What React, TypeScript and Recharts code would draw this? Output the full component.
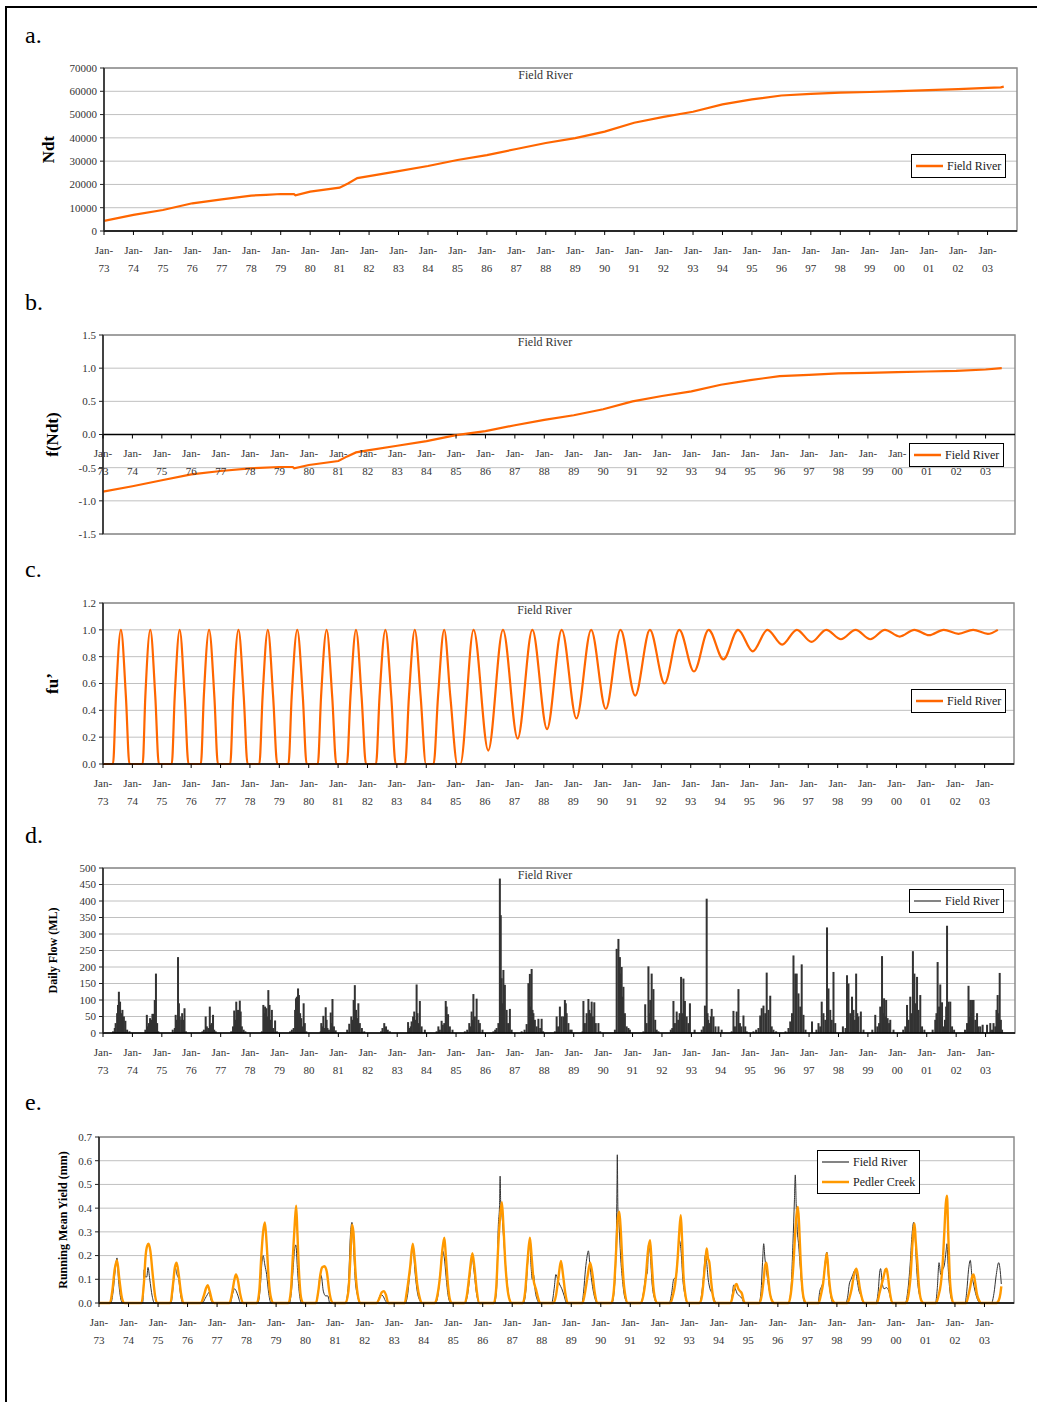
import React from 'react';
import {
  ComposedChart,
  Line,
  Bar,
  XAxis,
  YAxis,
  CartesianGrid,
  ReferenceArea,
  ReferenceLine,
  Legend,
} from 'recharts';

const FONT = '"Liberation Serif", "DejaVu Serif", serif';
const ORANGE = '#ff6600';
const AMBER = '#ff9900';
const DARK = '#333333';
const GRID = '#c0c0c0';
const BORDER = '#8c8c8c';

// ---- axes ----
const years = [
  1973, 1974, 1975, 1976, 1977, 1978, 1979, 1980, 1981, 1982, 1983, 1984, 1985, 1986, 1987, 1988,
  1989, 1990, 1991, 1992, 1993, 1994, 1995, 1996, 1997, 1998, 1999, 2000, 2001, 2002, 2003,
];
const ndtTicks = [0, 10000, 20000, 30000, 40000, 50000, 60000, 70000];
const fTicks = [-1.5, -1, -0.5, 0, 0.5, 1, 1.5];
const fuTicks = [0, 0.2, 0.4, 0.6, 0.8, 1, 1.2];
const flowTicks = [0, 50, 100, 150, 200, 250, 300, 350, 400, 450, 500];
const yieldTicks = [0, 0.1, 0.2, 0.3, 0.4, 0.5, 0.6, 0.7];

// ---- a. Ndt (decimal year, value) ----
const ndtPoints: [number, number][] = [
  [1973.0, 4300], [1974.0, 6900], [1975.0, 9000], [1976.0, 11900], [1977.0, 13600],
  [1978.0, 15200], [1978.5, 15500], [1979.0, 15900], [1979.45, 15800], [1979.5, 15300],
  [1980.0, 16900], [1981.0, 18600], [1981.3, 20500], [1981.6, 22700], [1982.0, 23600],
  [1983.0, 25700], [1984.0, 27900], [1985.0, 30500], [1986.0, 32600], [1987.0, 35200],
  [1988.0, 37800], [1989.0, 39900], [1990.0, 42700], [1991.0, 46500], [1992.0, 49000],
  [1993.0, 51200], [1994.0, 54400], [1995.0, 56500], [1996.0, 58200], [1997.0, 58900],
  [1998.0, 59400], [1999.0, 59700], [2000.0, 60100], [2001.0, 60500], [2002.0, 60900],
  [2003.0, 61500], [2003.45, 61700], [2003.55, 62000],
];

// ---- b. f(Ndt) ----
const fNdtPoints: [number, number][] = [
  [1973.0, -0.86], [1974.0, -0.78], [1975.0, -0.69], [1976.0, -0.6], [1977.0, -0.55],
  [1978.0, -0.51], [1979.0, -0.49], [1979.45, -0.49], [1979.5, -0.51], [1980.0, -0.46],
  [1981.0, -0.4], [1981.3, -0.33], [1981.6, -0.27], [1982.0, -0.24], [1983.0, -0.17],
  [1984.0, -0.1], [1985.0, -0.01], [1986.0, 0.05], [1987.0, 0.14], [1988.0, 0.22],
  [1989.0, 0.29], [1990.0, 0.38], [1991.0, 0.5], [1992.0, 0.58], [1993.0, 0.65],
  [1994.0, 0.75], [1995.0, 0.82], [1996.0, 0.88], [1997.0, 0.9], [1998.0, 0.92],
  [1999.0, 0.93], [2000.0, 0.94], [2001.0, 0.95], [2002.0, 0.96], [2003.0, 0.98],
  [2003.55, 1.0],
];

// ---- c. fu' ----
const fuPoints: [number, number][] = [
  [1973.0, 0], [1973.34, 0], [1973.44, 0.5], [1973.61, 1], [1973.78, 0.5],
  [1973.9, 0], [1974.35, 0], [1974.44, 0.5], [1974.61, 1], [1974.78, 0.5],
  [1974.9, 0], [1975.34, 0], [1975.44, 0.5], [1975.61, 1], [1975.78, 0.5],
  [1975.91, 0], [1976.33, 0], [1976.43, 0.5], [1976.61, 1], [1976.79, 0.5],
  [1976.91, 0], [1977.33, 0], [1977.43, 0.5], [1977.61, 1], [1977.79, 0.5],
  [1977.92, 0], [1978.32, 0], [1978.43, 0.5], [1978.61, 1], [1978.79, 0.5],
  [1978.93, 0], [1979.31, 0], [1979.42, 0.5], [1979.61, 1], [1979.8, 0.5],
  [1979.93, 0], [1980.31, 0], [1980.42, 0.5], [1980.61, 1], [1980.8, 0.5],
  [1980.94, 0], [1981.3, 0], [1981.42, 0.5], [1981.61, 1], [1981.8, 0.5],
  [1981.95, 0], [1982.29, 0], [1982.41, 0.5], [1982.61, 1], [1982.81, 0.5],
  [1982.96, 0], [1983.28, 0], [1983.41, 0.5], [1983.61, 1], [1983.81, 0.5],
  [1983.99, 0], [1984.25, 0], [1984.4, 0.5], [1984.61, 1], [1984.82, 0.5],
  [1985.06, 0], [1985.16, 0], [1985.61, 1],
  [1986.11, 0.1], [1986.61, 1],
  [1987.11, 0.19], [1987.61, 1],
  [1988.11, 0.26], [1988.61, 1],
  [1989.11, 0.34], [1989.61, 1],
  [1990.11, 0.41], [1990.61, 1],
  [1991.11, 0.51], [1991.61, 1],
  [1992.11, 0.6], [1992.61, 1],
  [1993.11, 0.69], [1993.61, 1],
  [1994.11, 0.78], [1994.61, 1],
  [1995.11, 0.84], [1995.61, 1],
  [1996.11, 0.89], [1996.61, 1],
  [1997.11, 0.91], [1997.61, 1],
  [1998.11, 0.93], [1998.61, 1],
  [1999.11, 0.93], [1999.61, 1],
  [2000.11, 0.95], [2000.61, 1],
  [2001.11, 0.96], [2001.61, 1],
  [2002.11, 0.97], [2002.61, 1],
  [2003.11, 0.97], [2003.45, 1],
];

// ---- d. daily flow (ML): per year, [fraction of year, flow] ----
const flowSeasons: [number, number][][] = [
  [[.34, 5], [.4, 15], [.43, 30], [.48, 60], [.51, 85], [.54, 125], [.58, 95], [.62, 60], [.66, 70], [.71, 50], [.76, 37], [.82, 10], [.9, 5]],
  [[.44, 10], [.49, 55], [.53, 20], [.56, 30], [.6, 45], [.64, 40], [.68, 58], [.72, 58], [.76, 100], [.8, 180], [.84, 30], [.88, 5]],
  [[.37, 10], [.44, 15], [.47, 55], [.51, 40], [.55, 230], [.58, 90], [.61, 50], [.66, 40], [.69, 60], [.73, 40], [.77, 75], [.82, 5]],
  [[.38, 5], [.43, 10], [.49, 50], [.53, 20], [.58, 15], [.63, 80], [.67, 25], [.7, 30], [.74, 55], [.78, 10], [.83, 5]],
  [[.36, 5], [.42, 20], [.46, 68], [.5, 40], [.53, 95], [.56, 60], [.59, 70], [.62, 40], [.65, 98], [.68, 65], [.72, 20], [.78, 10], [.84, 5]],
  [[.4, 5], [.45, 85], [.48, 60], [.51, 80], [.55, 75], [.59, 50], [.62, 130], [.66, 85], [.7, 40], [.74, 70], [.78, 15], [.85, 38], [.91, 5]],
  [[.36, 5], [.42, 10], [.48, 15], [.53, 70], [.56, 105], [.59, 110], [.63, 135], [.66, 115], [.7, 60], [.74, 45], [.78, 20], [.82, 90], [.86, 30], [.91, 5]],
  [[.4, 5], [.42, 30], [.46, 20], [.49, 52], [.53, 15], [.57, 78], [.6, 40], [.63, 15], [.68, 10], [.74, 62], [.78, 30], [.8, 103], [.85, 20], [.91, 8]],
  [[.3, 10], [.37, 28], [.44, 50], [.48, 40], [.52, 100], [.56, 145], [.6, 70], [.64, 45], [.68, 90], [.73, 30], [.8, 15], [.88, 5]],
  [[.45, 5], [.5, 15], [.56, 30], [.62, 20], [.68, 10], [.75, 5]],
  [[.37, 33], [.42, 15], [.46, 20], [.49, 35], [.54, 50], [.58, 65], [.62, 40], [.66, 147], [.69, 60], [.73, 30], [.77, 97], [.83, 20], [.94, 10]],
  [[.34, 5], [.4, 20], [.45, 10], [.51, 37], [.55, 25], [.6, 30], [.65, 97], [.68, 80], [.73, 57], [.79, 20], [.88, 10]],
  [[.3, 5], [.38, 10], [.45, 30], [.5, 20], [.53, 65], [.56, 40], [.59, 118], [.64, 50], [.7, 104], [.76, 40], [.81, 30], [.9, 10]],
  [[.27, 5], [.33, 10], [.38, 15], [.44, 30], [.49, 468], [.52, 357], [.55, 166], [.58, 90], [.61, 191], [.66, 146], [.72, 70], [.77, 30], [.83, 73], [.89, 10]],
  [[.23, 5], [.33, 10], [.4, 27], [.46, 151], [.51, 179], [.54, 80], [.57, 194], [.6, 70], [.63, 60], [.68, 40], [.74, 20], [.8, 43], [.86, 15], [.91, 43], [.96, 5]],
  [[.36, 5], [.42, 50], [.47, 20], [.53, 80], [.59, 50], [.65, 50], [.7, 100], [.73, 90], [.76, 60], [.82, 30], [.88, 10], [.93, 10]],
  [[.3, 5], [.33, 97], [.38, 30], [.44, 60], [.5, 103], [.53, 70], [.56, 60], [.61, 95], [.65, 50], [.7, 93], [.75, 30], [.84, 30], [.9, 5]],
  [[.4, 10], [.46, 255], [.52, 285], [.57, 230], [.6, 180], [.63, 200], [.66, 110], [.69, 140], [.74, 60], [.8, 20], [.86, 15], [.91, 10]],
  [[.37, 5], [.43, 87], [.48, 30], [.54, 202], [.57, 60], [.6, 100], [.65, 180], [.71, 133], [.77, 40], [.82, 10], [.88, 5]],
  [[.3, 10], [.35, 15], [.39, 97], [.44, 30], [.5, 65], [.55, 40], [.6, 60], [.65, 170], [.69, 60], [.73, 165], [.78, 97], [.84, 50], [.9, 30], [.95, 90]],
  [[.11, 10], [.35, 10], [.41, 20], [.46, 83], [.52, 407], [.55, 60], [.57, 40], [.62, 30], [.66, 50], [.69, 73], [.75, 50], [.82, 20], [.92, 20]],
  [[.03, 10], [.37, 5], [.43, 67], [.48, 20], [.54, 65], [.6, 133], [.65, 30], [.7, 20], [.77, 53], [.83, 20], [.88, 5]],
  [[.11, 5], [.2, 10], [.28, 15], [.34, 53], [.39, 75], [.45, 83], [.51, 60], [.56, 183], [.62, 70], [.68, 113], [.73, 20], [.79, 10], [.88, 5]],
  [[.2, 5], [.3, 15], [.36, 35], [.42, 60], [.47, 235], [.53, 180], [.58, 180], [.64, 120], [.7, 80], [.75, 208], [.81, 55], [.88, 10]],
  [[.1, 35], [.25, 10], [.32, 30], [.38, 20], [.43, 95], [.49, 60], [.55, 40], [.61, 320], [.66, 135], [.72, 70], [.77, 40], [.83, 185], [.89, 30]],
  [[.15, 20], [.24, 15], [.29, 175], [.34, 150], [.4, 60], [.46, 110], [.51, 70], [.56, 40], [.6, 180], [.64, 60], [.68, 50], [.76, 65], [.85, 10]],
  [[.15, 10], [.25, 55], [.32, 20], [.38, 30], [.42, 80], [.48, 233], [.52, 60], [.55, 105], [.58, 50], [.62, 100], [.67, 45], [.72, 30], [.76, 40], [.87, 10]],
  [[.2, 10], [.27, 20], [.33, 85], [.38, 40], [.44, 110], [.48, 60], [.53, 248], [.58, 180], [.62, 90], [.67, 170], [.72, 70], [.78, 115], [.84, 20], [.92, 10]],
  [[.2, 10], [.29, 40], [.33, 60], [.37, 215], [.42, 80], [.46, 147], [.52, 93], [.57, 20], [.62, 40], [.66, 80], [.69, 325], [.74, 95], [.8, 95], [.86, 20], [.93, 10]],
  [[.3, 10], [.37, 30], [.42, 143], [.46, 50], [.48, 100], [.51, 60], [.54, 100], [.59, 100], [.65, 40], [.71, 60], [.76, 20], [.82, 20], [.9, 25]],
  [[.05, 25], [.16, 30], [.22, 10], [.27, 30], [.33, 20], [.37, 70], [.41, 115], [.45, 60], [.48, 182], [.52, 40], [.56, 10]],
];

// ---- e. running mean yield (mm): per year, [fraction of year, yield] ----
const fieldYieldSeasons: [number, number][][] = [
  [[0, 0], [.4, 0], [.48, .05], [.55, .14], [.61, .19], [.66, .1], [.72, .03], [.8, 0]],
  [[.48, 0], [.53, .14], [.57, .11], [.62, .11], [.66, .15], [.72, .1], [.8, .03], [.88, 0]],
  [[.44, 0], [.52, .08], [.58, .15], [.64, .12], [.7, .1], [.77, .03], [.84, 0]],
  [[.5, 0], [.6, .02], [.67, .035], [.73, .045], [.78, .02], [.85, 0]],
  [[.45, 0], [.53, .04], [.59, .06], [.65, .05], [.71, .03], [.8, 0]],
  [[.38, 0], [.46, .06], [.52, .17], [.56, .2], [.62, .16], [.68, .12], [.75, .04], [.83, 0]],
  [[.45, 0], [.52, .05], [.58, .15], [.63, .23], [.67, .245], [.72, .15], [.78, .05], [.86, 0]],
  [[.35, 0], [.43, .05], [.5, .12], [.54, .11], [.6, .05], [.68, .03], [.75, .03], [.82, 0]],
  [[.35, 0], [.45, .08], [.52, .29], [.57, .34], [.62, .25], [.68, .1], [.76, .03], [.85, 0]],
  [[.38, 0], [.46, .01], [.54, .035], [.62, .03], [.7, .01], [.78, 0]],
  [[.38, 0], [.45, .03], [.55, .15], [.64, .24], [.7, .14], [.78, .05], [.87, .01], [.94, 0]],
  [[.4, 0], [.48, .03], [.56, .12], [.64, .22], [.7, .19], [.76, .11], [.83, .03], [.92, 0]],
  [[.4, 0], [.48, .03], [.57, .12], [.64, .195], [.71, .13], [.79, .04], [.88, 0]],
  [[.4, 0], [.47, .06], [.53, .33], [.57, .41], [.59, .535], [.61, .42], [.66, .36], [.71, .27], [.8, .12], [.9, .02], [.98, 0]],
  [[.38, 0], [.46, .05], [.53, .18], [.59, .255], [.64, .15], [.68, .1], [.72, .12], [.78, .05], [.86, .01], [.92, 0]],
  [[.34, 0], [.42, .06], [.48, .12], [.54, .1], [.6, .08], [.68, .06], [.76, .03], [.84, 0]],
  [[.36, 0], [.42, .05], [.48, .14], [.54, .2], [.58, .22], [.64, .15], [.72, .07], [.8, .02], [.88, 0]],
  [[.38, 0], [.46, .06], [.52, .24], [.55, .5], [.56, .625], [.58, .4], [.62, .33], [.67, .2], [.74, .09], [.82, .02], [.92, 0]],
  [[.36, 0], [.44, .04], [.52, .11], [.58, .13], [.62, .25], [.68, .2], [.74, .08], [.82, .02], [.9, 0]],
  [[.32, 0], [.4, .04], [.47, .1], [.55, .11], [.62, .22], [.66, .265], [.72, .22], [.78, .1], [.86, .03], [.94, 0]],
  [[.35, 0], [.43, .05], [.5, .14], [.54, .2], [.58, .18], [.64, .1], [.7, .06], [.78, .04], [.86, .01], [.92, 0]],
  [[.4, 0], [.46, .04], [.5, .075], [.56, .06], [.62, .04], [.7, .03], [.78, .02], [.86, 0]],
  [[.36, 0], [.43, .05], [.48, .17], [.52, .25], [.56, .19], [.62, .13], [.7, .06], [.78, .02], [.86, 0]],
  [[.36, 0], [.44, .05], [.51, .25], [.56, .43], [.59, .54], [.62, .42], [.66, .3], [.7, .25], [.76, .15], [.83, .05], [.92, 0]],
  [[.36, 0], [.42, .05], [.48, .07], [.55, .1], [.61, .18], [.66, .215], [.72, .1], [.78, .04], [.86, 0]],
  [[.3, 0], [.37, .03], [.42, .08], [.48, .1], [.54, .12], [.62, .14], [.68, .1], [.75, .05], [.82, .03], [.9, 0]],
  [[.32, 0], [.4, .05], [.45, .13], [.48, .145], [.54, .08], [.6, .06], [.68, .065], [.76, .05], [.84, .01], [.92, 0]],
  [[.32, 0], [.4, .05], [.48, .16], [.54, .28], [.6, .34], [.65, .28], [.7, .15], [.76, .06], [.84, .02], [.92, 0]],
  [[.34, 0], [.4, .06], [.46, .17], [.52, .12], [.58, .14], [.64, .16], [.7, .22], [.73, .25], [.77, .15], [.83, .05], [.9, .01], [.96, 0]],
  [[.34, 0], [.4, .05], [.46, .14], [.52, .18], [.57, .12], [.63, .08], [.7, .04], [.78, .01], [.86, 0]],
  [[.24, 0], [.32, .04], [.4, .12], [.48, .17], [.52, .15], [.57, .08]],
];

const pedlerYieldSeasons: [number, number][][] = [
  [[0, 0], [.37, 0], [.45, .05], [.53, .14], [.61, .18], [.69, .1], [.78, .02], [.87, 0]],
  [[.44, 0], [.52, .08], [.58, .2], [.63, .24], [.68, .25], [.74, .22], [.82, .12], [.9, .03], [.97, 0]],
  [[.42, 0], [.5, .07], [.57, .15], [.63, .17], [.7, .12], [.78, .04], [.86, 0]],
  [[.45, 0], [.55, .03], [.62, .06], [.68, .075], [.75, .05], [.83, .01], [.9, 0]],
  [[.42, 0], [.52, .05], [.59, .1], [.64, .12], [.7, .1], [.78, .04], [.88, 0]],
  [[.35, 0], [.43, .05], [.5, .2], [.56, .3], [.62, .34], [.68, .25], [.75, .1], [.83, .02], [.92, 0]],
  [[.42, 0], [.5, .05], [.57, .2], [.63, .33], [.68, .41], [.72, .3], [.78, .12], [.85, .02], [.93, 0]],
  [[.35, 0], [.43, .05], [.5, .12], [.56, .15], [.64, .155], [.72, .13], [.8, .05], [.87, .01], [.93, 0]],
  [[.35, 0], [.45, .05], [.52, .2], [.57, .33], [.62, .3], [.68, .15], [.76, .04], [.85, 0]],
  [[.4, 0], [.5, .02], [.58, .045], [.65, .05], [.72, .035], [.8, 0]],
  [[.36, 0], [.42, .04], [.54, .15], [.63, .25], [.7, .18], [.78, .08], [.87, .02], [.94, 0]],
  [[.38, 0], [.46, .03], [.56, .12], [.63, .22], [.7, .275], [.75, .2], [.82, .08], [.9, .01], [.96, 0]],
  [[.38, 0], [.46, .03], [.55, .12], [.65, .21], [.72, .15], [.8, .05], [.89, 0]],
  [[.38, 0], [.45, .05], [.53, .25], [.6, .38], [.65, .425], [.7, .33], [.76, .18], [.83, .07], [.92, .01], [.98, 0]],
  [[.36, 0], [.44, .05], [.52, .18], [.6, .275], [.66, .19], [.72, .1], [.8, .06], [.88, .02], [.94, 0]],
  [[.4, 0], [.48, .03], [.56, .1], [.65, .177], [.72, .12], [.8, .04], [.88, 0]],
  [[.38, 0], [.46, .04], [.55, .11], [.64, .17], [.72, .12], [.8, .04], [.9, 0]],
  [[.36, 0], [.44, .05], [.52, .22], [.58, .36], [.63, .385], [.68, .3], [.74, .15], [.82, .04], [.92, 0]],
  [[.36, 0], [.44, .03], [.52, .1], [.6, .22], [.67, .265], [.72, .18], [.78, .07], [.86, .01], [.92, 0]],
  [[.36, 0], [.44, .03], [.52, .08], [.6, .18], [.66, .3], [.71, .37], [.75, .28], [.8, .12], [.86, .04], [.94, 0]],
  [[.35, 0], [.43, .03], [.5, .12], [.56, .2], [.59, .23], [.63, .19], [.68, .17], [.74, .09], [.8, .03], [.88, 0]],
  [[.4, 0], [.47, .03], [.54, .07], [.6, .08], [.66, .06], [.72, .05], [.78, .04], [.84, .01], [.9, 0]],
  [[.38, 0], [.45, .03], [.52, .1], [.57, .16], [.61, .17], [.66, .12], [.72, .05], [.8, .01], [.88, 0]],
  [[.36, 0], [.44, .04], [.52, .15], [.58, .28], [.63, .37], [.68, .405], [.72, .33], [.77, .18], [.83, .06], [.9, .01], [.96, 0]],
  [[.38, 0], [.45, .03], [.53, .08], [.6, .16], [.66, .21], [.72, .12], [.78, .05], [.86, .01], [.94, 0]],
  [[.35, 0], [.42, .02], [.5, .06], [.58, .12], [.66, .145], [.72, .11], [.78, .06], [.85, .02], [.92, 0]],
  [[.36, 0], [.44, .04], [.52, .08], [.58, .11], [.64, .14], [.68, .145], [.72, .12], [.8, .04], [.88, 0]],
  [[.34, 0], [.42, .03], [.5, .12], [.56, .25], [.63, .335], [.67, .26], [.72, .18], [.78, .07], [.86, .01], [.94, 0]],
  [[.36, 0], [.44, .03], [.52, .08], [.58, .16], [.64, .3], [.69, .42], [.73, .452], [.77, .3], [.82, .12], [.88, .03], [.95, 0]],
  [[.38, 0], [.45, .03], [.52, .07], [.58, .11], [.63, .12], [.68, .09], [.74, .04], [.82, .01], [.88, 0]],
  [[.4, 0], [.48, .01], [.54, .04], [.57, .07]],
];

// tables for recharts
const toRows = (pts: [number, number][]) => pts.map(([t, v]) => ({ t, v }));
const seasonRows = (seasons: [number, number][][]) =>
  years.flatMap((y, i) => (seasons[i] || []).map(([o, v]) => ({ t: y + o, v })));

const ndtData = toRows(ndtPoints);
const fNdtData = toRows(fNdtPoints);
const fuData = toRows(fuPoints);
const flowData = seasonRows(flowSeasons);
const fieldYieldData = seasonRows(fieldYieldSeasons);
const pedlerYieldData = seasonRows(pedlerYieldSeasons);

// ---- layout helpers ----
const PAGE_W = 1037;
const X_AXIS_H = 46;
const PAD_TOP = 10;

type Plot = { left: number; right: number; top: number; bottom: number };

function frame(p: Plot) {
  return {
    style: { position: 'absolute' as const, left: 0, top: p.top - PAD_TOP },
    width: PAGE_W,
    height: p.bottom - p.top + PAD_TOP + X_AXIS_H,
    margin: { top: PAD_TOP, right: PAGE_W - p.right, bottom: 0, left: 0 },
  };
}

function YearTick(props: any) {
  const { x, y, payload, lift = 0 } = props;
  const axisY = y - 4 - lift;
  const txt = { textAnchor: 'middle' as const, fontSize: 11, fontFamily: FONT, fill: '#333' };
  return (
    <g>
      {lift > 0 && <line x1={x} x2={x} y1={axisY} y2={axisY + 4} stroke="#000" />}
      <text x={x} y={axisY + 22.5} {...txt}>Jan-</text>
      <text x={x} y={axisY + 40.5} {...txt}>{String(payload.value).slice(2)}</text>
    </g>
  );
}

// daily flow column: fixed 2px width, centred on its date
function FlowBar(props: any) {
  const { x, y, width, height, fill } = props;
  if (!height || height <= 0) return null;
  return <rect x={x + width / 2 - 1} y={y} width={2} height={height} fill={fill} />;
}

type LegendItem = { label: string; color: string; width: number };

function LegendBox({ items }: { items: LegendItem[] }) {
  return (
    <div
      style={{
        border: '1px solid #000',
        background: '#fff',
        padding: items.length > 1 ? '1px 4px' : '3px 4px',
        fontFamily: FONT,
        fontSize: 12,
        color: '#222',
        display: 'inline-block',
      }}
    >
      {items.map((it) => (
        <div
          key={it.label}
          style={{ display: 'flex', alignItems: 'center', height: items.length > 1 ? 20 : 16, whiteSpace: 'nowrap' }}
        >
          <svg width={27} height={6} style={{ marginRight: 4 }}>
            <line x1={0} x2={27} y1={3} y2={3} stroke={it.color} strokeWidth={it.width} />
          </svg>
          <span>{it.label}</span>
        </div>
      ))}
    </div>
  );
}

function legendAt(left: number, top: number, items: LegendItem[]) {
  return (
    <Legend
      layout="horizontal"
      verticalAlign="middle"
      align="center"
      content={() => <LegendBox items={items} />}
      wrapperStyle={{ left, top, right: 'auto', bottom: 'auto', width: 'auto', height: 'auto' }}
    />
  );
}

const tickStyle = { fill: '#333', fontSize: 11, fontFamily: FONT };
const axisTitle = (value: string, x: number, plotLeft: number, size: number) => ({
  value,
  angle: -90,
  position: 'center' as const,
  dx: x - plotLeft / 2,
  fill: '#000',
  fontSize: size,
  fontWeight: 'bold',
  fontFamily: FONT,
});
const plotTitle = (dx: number) => ({
  value: 'Field River',
  position: 'insideTop' as const,
  offset: 2,
  dx,
  fill: '#333',
  fontSize: 12,
  fontFamily: FONT,
});

function yearAxis(extra: Record<string, unknown> = {}) {
  return (
    <XAxis
      type="number"
      dataKey="t"
      domain={[1973, 2004]}
      ticks={years}
      interval={0}
      allowDataOverflow
      height={X_AXIS_H}
      tickSize={4}
      tickMargin={0}
      axisLine={{ stroke: '#000', strokeWidth: 1.5 }}
      tickLine={{ stroke: '#000' }}
      tick={<YearTick />}
      {...extra}
    />
  );
}

function valueAxis(plotLeft: number, domain: [number, number], ticks: number[], fmt: (v: number) => string, label: any) {
  return (
    <YAxis
      type="number"
      domain={domain}
      ticks={ticks}
      interval={0}
      width={plotLeft}
      tickSize={4}
      tickMargin={3}
      tick={tickStyle}
      tickFormatter={fmt}
      axisLine={{ stroke: '#222', strokeWidth: 1.5 }}
      tickLine={{ stroke: '#222' }}
      label={label}
    />
  );
}

const panelLabel = (text: string, top: number) => (
  <div
    style={{
      position: 'absolute',
      left: 25,
      top,
      fontFamily: FONT,
      fontSize: 24,
      lineHeight: '24px',
      color: '#000',
    }}
  >
    {text}
  </div>
);

const plotA: Plot = { left: 104, right: 1017, top: 68, bottom: 231 };
const plotB: Plot = { left: 103, right: 1015, top: 335, bottom: 534 };
const plotC: Plot = { left: 103, right: 1014, top: 603, bottom: 764 };
const plotD: Plot = { left: 103, right: 1015, top: 868, bottom: 1033 };
const plotE: Plot = { left: 99, right: 1014, top: 1137, bottom: 1303 };

const fixed1 = (v: number) => v.toFixed(1);
const plain = (v: number) => String(v);

export default function App() {
  const fa = frame(plotA);
  const fb = frame(plotB);
  const fc = frame(plotC);
  const fd = frame(plotD);
  const fe = frame(plotE);
  const liftB = (plotB.bottom - plotB.top) / 2;

  return (
    <div style={{ position: 'absolute', left: 0, top: 0, width: PAGE_W, height: 1402, background: '#fff', overflow: 'hidden' }}>
      <div
        style={{
          position: 'absolute',
          left: 5,
          top: 6,
          width: PAGE_W - 5,
          height: 1402 - 6,
          borderLeft: '2px solid #000',
          borderTop: '2px solid #000',
          boxSizing: 'border-box',
        }}
      />

      {panelLabel('a.', 23)}
      {panelLabel('b.', 290)}
      {panelLabel('c.', 557)}
      {panelLabel('d.', 823)}
      {panelLabel('e.', 1090)}

      {/* a. Ndt */}
      <div style={fa.style}>
        <ComposedChart width={fa.width} height={fa.height} margin={fa.margin} data={ndtData}>
          <CartesianGrid horizontal vertical={false} stroke={GRID} />
          <ReferenceArea x1={1973} x2={2004} y1={0} y2={70000} fill="none" stroke={BORDER} strokeWidth={1.5} label={plotTitle(-15)} />
          {yearAxis()}
          {valueAxis(plotA.left, [0, 70000], ndtTicks, plain, axisTitle('Ndt', 48, plotA.left, 17))}
          <Line type="linear" dataKey="v" stroke={ORANGE} strokeWidth={2.2} dot={false} activeDot={false} isAnimationActive={false} />
          {legendAt(911, 96, [{ label: 'Field River', color: ORANGE, width: 2.5 }])}
        </ComposedChart>
      </div>

      {/* b. f(Ndt) */}
      <div style={fb.style}>
        <ComposedChart width={fb.width} height={fb.height} margin={fb.margin} data={fNdtData}>
          <CartesianGrid horizontal vertical={false} stroke={GRID} />
          <ReferenceArea x1={1973} x2={2004} y1={-1.5} y2={1.5} fill="none" stroke={BORDER} strokeWidth={1.5} label={plotTitle(-14)} />
          {yearAxis({ axisLine: false, tickLine: { stroke: 'none' }, tick: <YearTick lift={liftB} /> })}
          {valueAxis(plotB.left, [-1.5, 1.5], fTicks, fixed1, axisTitle('f(Ndt)', 52, plotB.left, 17))}
          <ReferenceLine y={0} stroke="#000" strokeWidth={1.5} />
          <Line type="linear" dataKey="v" stroke={ORANGE} strokeWidth={2.2} dot={false} activeDot={false} isAnimationActive={false} />
          {legendAt(909, 118, [{ label: 'Field River', color: ORANGE, width: 2.5 }])}
        </ComposedChart>
      </div>

      {/* c. fu' */}
      <div style={fc.style}>
        <ComposedChart width={fc.width} height={fc.height} margin={fc.margin} data={fuData}>
          <CartesianGrid horizontal vertical={false} stroke={GRID} />
          <ReferenceArea x1={1973} x2={2004} y1={0} y2={1.2} fill="none" stroke={BORDER} strokeWidth={1.5} label={plotTitle(-14)} />
          {yearAxis()}
          {valueAxis(plotC.left, [0, 1.2], fuTicks, fixed1, axisTitle('fu\u2019', 52, plotC.left, 17))}
          <Line type="monotone" dataKey="v" stroke={ORANGE} strokeWidth={2.2} dot={false} activeDot={false} isAnimationActive={false} />
          {legendAt(911, 96, [{ label: 'Field River', color: ORANGE, width: 2.5 }])}
        </ComposedChart>
      </div>

      {/* d. daily flow */}
      <div style={fd.style}>
        <ComposedChart width={fd.width} height={fd.height} margin={fd.margin} data={flowData}>
          <CartesianGrid horizontal vertical={false} stroke={GRID} />
          <ReferenceArea x1={1973} x2={2004} y1={0} y2={500} fill="none" stroke={BORDER} strokeWidth={1.5} label={plotTitle(-14)} />
          {yearAxis()}
          {valueAxis(plotD.left, [0, 500], flowTicks, plain, axisTitle('Daily Flow (ML)', 53, plotD.left, 12))}
          <Bar dataKey="v" fill={DARK} shape={<FlowBar />} isAnimationActive={false} />
          {legendAt(909, 31, [{ label: 'Field River', color: DARK, width: 1.2 }])}
        </ComposedChart>
      </div>

      {/* e. running mean yield */}
      <div style={fe.style}>
        <ComposedChart width={fe.width} height={fe.height} margin={fe.margin}>
          <CartesianGrid horizontal vertical={false} stroke={GRID} />
          <ReferenceArea x1={1973} x2={2004} y1={0} y2={0.7} fill="none" stroke={BORDER} strokeWidth={1.5} />
          {yearAxis()}
          {valueAxis(plotE.left, [0, 0.7], yieldTicks, fixed1, axisTitle('Running Mean Yield (mm)', 63, plotE.left, 12))}
          <Line data={fieldYieldData} type="monotone" dataKey="v" name="Field River" stroke={DARK} strokeWidth={1} dot={false} activeDot={false} isAnimationActive={false} />
          <Line data={pedlerYieldData} type="monotone" dataKey="v" name="Pedler Creek" stroke={AMBER} strokeWidth={2.4} dot={false} activeDot={false} isAnimationActive={false} />
          {legendAt(817, 23, [
            { label: 'Field River', color: DARK, width: 1.2 },
            { label: 'Pedler Creek', color: AMBER, width: 2.5 },
          ])}
        </ComposedChart>
      </div>
    </div>
  );
}
